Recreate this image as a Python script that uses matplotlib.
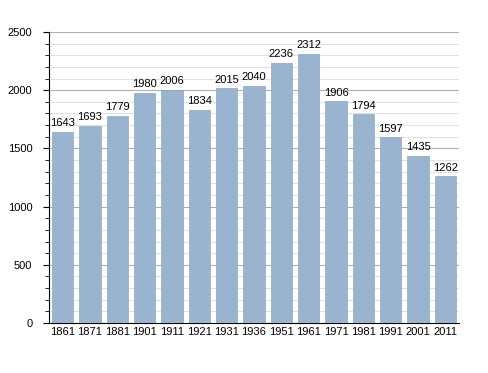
import matplotlib
matplotlib.use("Agg")
import matplotlib.pyplot as plt
from matplotlib.ticker import MultipleLocator

years = ["1861", "1871", "1881", "1901", "1911", "1921", "1931", "1936",
         "1951", "1961", "1971", "1981", "1991", "2001", "2011"]
population = [1643, 1693, 1779, 1980, 2006, 1834, 2015, 2040,
              2236, 2312, 1906, 1794, 1597, 1435, 1262]

plt.rcParams['font.family'] = ['Liberation Sans', 'DejaVu Sans']

fig = plt.figure(figsize=(4.88, 3.73), dpi=100)
ax = fig.add_axes([49/488, 1-323/373, 410/488, 291/373])

x = list(range(len(years)))
bars = ax.bar(x, population, width=0.78, color="#9ab3cf", edgecolor="#8fa8c4",
              linewidth=0.5, zorder=3)
for xi, v in zip(x, population):
    ax.text(xi, v + 30, str(v), ha="center", va="bottom", fontsize=8, zorder=4)

ax.set_xlim(-0.5, len(years) - 0.5)
ax.set_ylim(0, 2500)
ax.set_xticks(x)
ax.set_xticklabels(years, fontsize=8)
ax.tick_params(axis="x", length=0, pad=3)
ax.yaxis.set_major_locator(MultipleLocator(500))
ax.yaxis.set_minor_locator(MultipleLocator(100))
ax.tick_params(axis="y", which="major", length=4, labelsize=8, pad=8)
ax.tick_params(axis="y", which="minor", length=3)
ax.grid(axis="y", which="major", color="#b0b0b0", linewidth=0.8, zorder=0)
ax.grid(axis="y", which="minor", color="#e2e2e2", linewidth=0.8, zorder=0)
for s in ["top", "right"]:
    ax.spines[s].set_visible(False)
ax.spines["left"].set_linewidth(0.8)
ax.spines["bottom"].set_linewidth(0.8)

fig.savefig("out.png", dpi=100)
